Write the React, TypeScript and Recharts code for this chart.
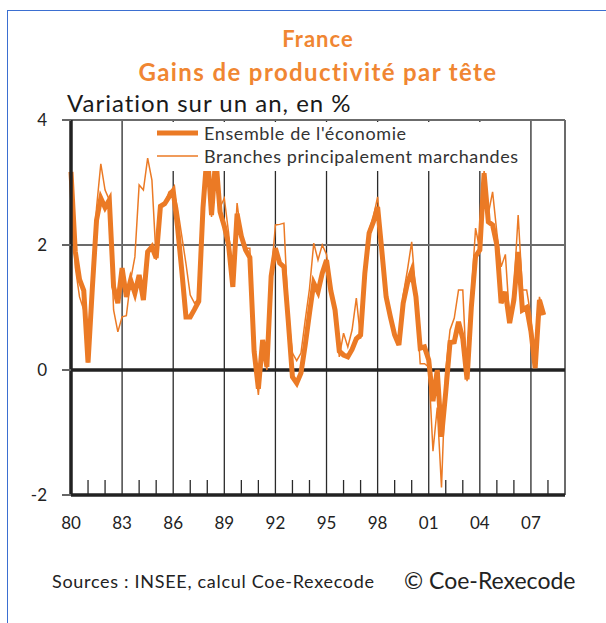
import { LineChart, Line, XAxis, YAxis, ReferenceLine, Legend } from "recharts"

// quarterly year-on-year change, 1980Q1 .. 2007Q4
const startYear = 1980

const ensemble = [
  3.17, 1.9, 1.45, 1.27,
  0.12, 1.3, 2.4, 2.75,
  2.6, 2.72, 1.33, 1.07,
  1.63, 1.17, 1.44, 1.23,
  1.52, 1.12, 1.89, 1.97,
  1.79, 2.62, 2.66, 2.77,
  2.87, 2.3, 1.6, 0.85,
  0.85, 0.97, 1.1, 2.6,
  3.5, 2.48, 3.4, 2.53,
  2.3, 2.0, 1.33, 2.5,
  2.14, 1.92, 1.8, 0.3,
  -0.3, 0.48, 0.05, 1.5,
  1.95, 1.71, 1.65, 0.8,
  -0.11, -0.21, -0.05, 0.4,
  0.91, 1.39, 1.25, 1.55,
  1.76, 1.27, 0.96, 0.3,
  0.24, 0.21, 0.33, 0.5,
  0.56, 1.55, 2.19, 2.37,
  2.61, 1.9, 1.17, 0.85,
  0.56, 0.4, 1.07, 1.39,
  1.58, 1.17, 0.35, 0.37,
  0.16, -0.5, 0.0, -1.07,
  -0.35, 0.44, 0.45, 0.77,
  0.5, -0.15, 1.0, 1.82,
  1.92, 3.15, 2.37, 2.32,
  2.0, 1.07, 1.25, 0.75,
  1.12, 1.89, 0.96, 1.0,
  0.62, 0.03, 1.12, 0.88,
]

const marchandes = [
  3.17, 1.65, 1.17, 0.96,
  0.12, 1.5, 2.6, 3.3,
  2.88, 2.72, 0.96, 0.61,
  0.85, 0.87, 1.44, 1.81,
  2.96, 2.88, 3.39, 3.04,
  1.76, 2.6, 2.65, 2.85,
  2.9, 2.6, 2.15, 1.7,
  1.2, 1.07, 1.15, 2.8,
  3.45, 2.45, 3.3, 2.6,
  2.75, 2.2, 1.5, 2.67,
  2.13, 1.95, 1.95, 0.2,
  -0.4, 0.4, 0.0, 1.5,
  2.32, 2.33, 2.35, 0.9,
  0.27, 0.15, 0.27, 0.8,
  1.3, 2.03, 1.76, 2.0,
  1.85, 1.35, 1.0, 0.21,
  0.59, 0.37, 0.64, 1.15,
  0.5, 1.6, 2.24, 2.45,
  2.77, 2.0, 1.2, 0.85,
  0.56, 0.45, 1.2, 1.6,
  2.05, 1.2, 0.1, 0.1,
  0.05, -1.3, -0.6, -1.88,
  0.0, 0.64, 0.83, 1.28,
  1.28, -0.18, 1.2, 2.27,
  1.92, 3.2, 2.5, 2.85,
  2.2, 1.65, 1.85, 0.8,
  1.3, 2.48, 1.28, 1.28,
  0.85, 0.05, 1.17, 0.88,
]

const xTicks = [1980, 1983, 1986, 1989, 1992, 1995, 1998, 2001, 2004, 2007]
const minorYears = [
  1981, 1982, 1984, 1985, 1987, 1988, 1990, 1991, 1993, 1994, 1996, 1997,
  1999, 2000, 2002, 2003, 2005, 2006, 2008,
]
const yTicks = [-2, 0, 2, 4]

const seriesNames = ["Ensemble de l'économie", "Branches principalement marchandes"]

const ORANGE = "#eb7a25"
const FONT = "Lato, 'Open Sans', sans-serif"

const data = ensemble.map((v, i) => ({
  t: startYear + i / 4,
  ensemble: v,
  marchandes: marchandes[i],
}))

function LegendBox() {
  const row = (name: string, width: number) => (
    <div style={{ display: "flex", alignItems: "center", height: 23 }}>
      <svg width={41} height={10} style={{ marginRight: 6 }}>
        <line x1={0} y1={5} x2={41} y2={5} stroke={ORANGE} strokeWidth={width} />
      </svg>
      <span style={{ fontSize: 18, letterSpacing: 0.6, color: "#333", fontFamily: FONT }}>
        {name}
      </span>
    </div>
  )
  return (
    <div style={{ background: "#fff", padding: "0 4px 3px 5px" }}>
      {row(seriesNames[0], 5)}
      {row(seriesNames[1], 1.5)}
    </div>
  )
}

export default function App() {
  return (
    <div
      style={{
        position: "fixed",
        left: 0,
        top: 0,
        width: 606,
        height: 623,
        background: "#fff",
        overflow: "hidden",
        fontFamily: FONT,
      }}
    >
      <div
        style={{
          position: "absolute",
          left: 7,
          top: 10,
          width: 620,
          height: 640,
          borderTop: "1.5px solid #3b6fd1",
          borderLeft: "1.5px solid #3b6fd1",
        }}
      />
      <div
        style={{
          position: "absolute",
          left: 0,
          width: 636,
          top: 28,
          textAlign: "center",
          fontSize: 22,
          lineHeight: "22px",
          letterSpacing: 1,
          fontWeight: 700,
          color: "#f08632",
        }}
      >
        France
      </div>
      <div
        style={{
          position: "absolute",
          left: 0,
          width: 636,
          top: 60,
          textAlign: "center",
          fontSize: 24,
          lineHeight: "24px",
          letterSpacing: 1.4,
          fontWeight: 700,
          color: "#f08632",
        }}
      >
        Gains de productivité par tête
      </div>
      <div
        style={{
          position: "absolute",
          left: 67,
          top: 91,
          fontSize: 24,
          lineHeight: "24px",
          letterSpacing: 1,
          color: "#1a1a1a",
        }}
      >
        Variation sur un an, en %
      </div>

      <div style={{ position: "absolute", left: 0, top: 0 }}>
        <LineChart
          width={606}
          height={548}
          data={data}
          margin={{ top: 120, right: 41, bottom: 23, left: 0 }}
        >
          <XAxis
            dataKey="t"
            type="number"
            domain={[1980, 2009]}
            ticks={xTicks}
            interval={0}
            tickFormatter={(v: number) => String(v).slice(2)}
            tickLine={false}
            tickMargin={16}
            height={30}
            axisLine={{ stroke: "#222", strokeWidth: 3.5 }}
            tick={{ fontSize: 17, fill: "#222", fontFamily: FONT }}
          />
          <YAxis
            type="number"
            domain={[-2, 4]}
            ticks={yTicks}
            interval={0}
            width={71}
            tickSize={9}
            tickMargin={15}
            tickLine={{ stroke: "#666", strokeWidth: 2 }}
            axisLine={{ stroke: "#222", strokeWidth: 3.5 }}
            tick={{ fontSize: 17, fill: "#222", fontFamily: FONT }}
          />
          {xTicks.slice(1).map((yr) => (
            <ReferenceLine key={yr} x={yr} stroke="#2a2a2a" strokeWidth={1.3} />
          ))}
          {minorYears.map((yr) => (
            <ReferenceLine
              key={"m" + yr}
              segment={[
                { x: yr, y: -2 },
                { x: yr, y: -1.76 },
              ]}
              stroke="#2a2a2a"
              strokeWidth={1.3}
            />
          ))}
          <ReferenceLine x={2009} stroke="#6b6b6b" strokeWidth={2} />
          <ReferenceLine y={4} stroke="#6b6b6b" strokeWidth={2} />
          <ReferenceLine y={2} stroke="#6b6b6b" strokeWidth={2} />
          <ReferenceLine y={0} stroke="#222" strokeWidth={3.5} />
          <Line
            type="linear"
            dataKey="marchandes"
            name={seriesNames[1]}
            stroke={ORANGE}
            strokeWidth={1.5}
            dot={false}
            isAnimationActive={false}
          />
          <Line
            type="linear"
            dataKey="ensemble"
            name={seriesNames[0]}
            stroke={ORANGE}
            strokeWidth={5}
            strokeLinejoin="miter"
            dot={false}
            isAnimationActive={false}
          />
          <Legend
            layout="horizontal"
            align="center"
            verticalAlign="middle"
            content={() => <LegendBox />}
            wrapperStyle={{ left: 152, top: 121.5, width: "auto" }}
          />
        </LineChart>
      </div>

      <div
        style={{
          position: "absolute",
          left: 52,
          top: 572,
          fontSize: 18,
          lineHeight: "18px",
          letterSpacing: 0.7,
          color: "#222",
        }}
      >
        Sources : INSEE, calcul Coe-Rexecode
      </div>
      <div
        style={{
          position: "absolute",
          left: 404,
          top: 569,
          fontSize: 23,
          lineHeight: "23px",
          color: "#222",
        }}
      >
        © Coe-Rexecode
      </div>
    </div>
  )
}
